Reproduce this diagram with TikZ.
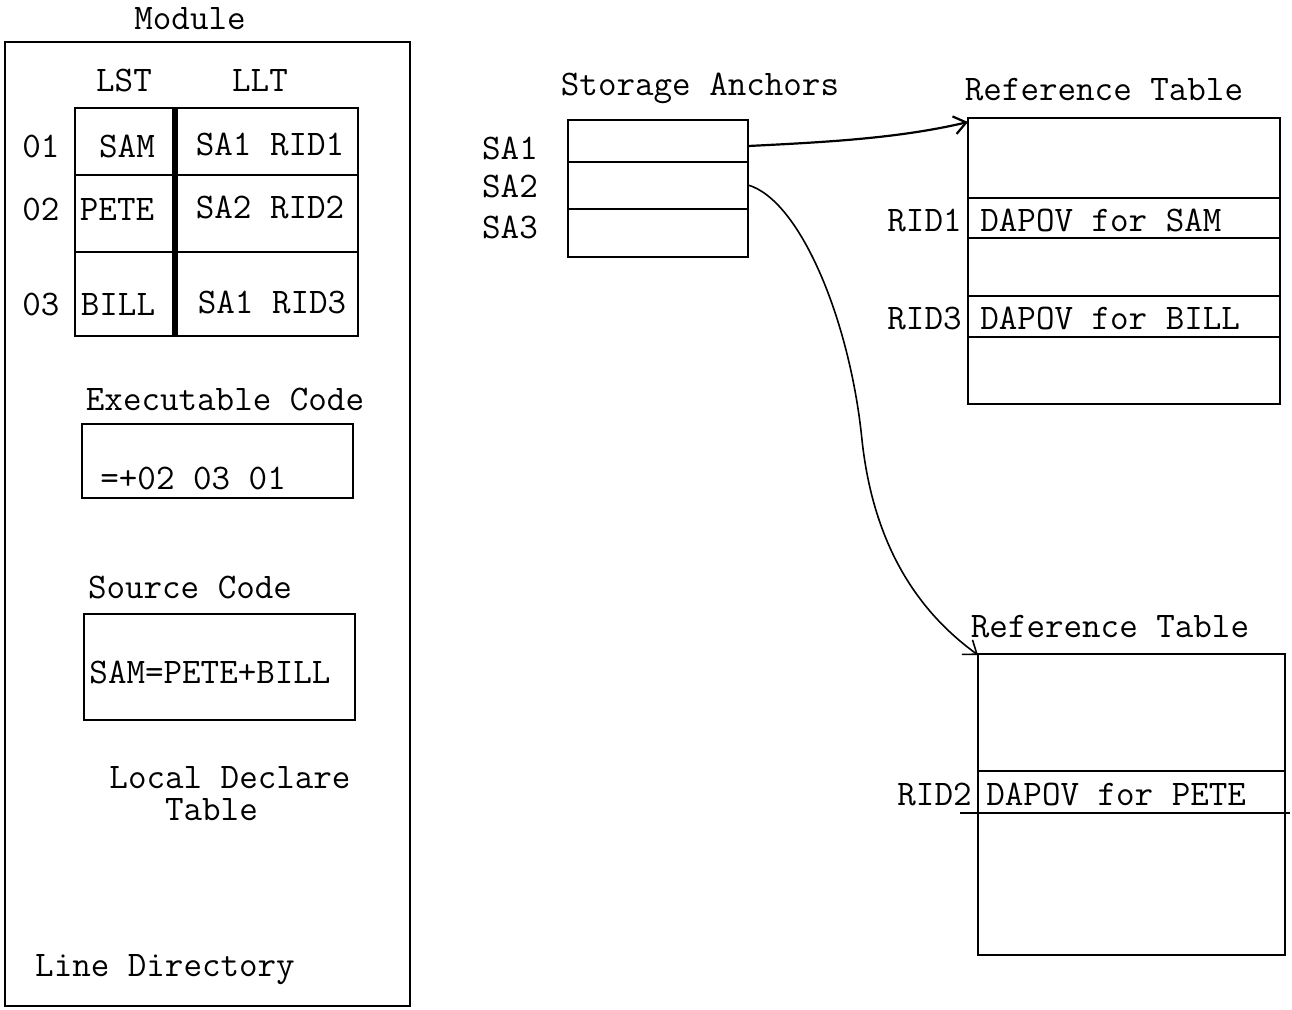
\documentclass[tikz,border=0pt]{standalone}
\usetikzlibrary{arrows.meta}
\tikzset{
  txt/.style={font=\fontsize{18}{16}\selectfont\ttfamily, inner sep=0pt},
  box/.style={draw, line width=0.9pt, inner sep=0pt},
  row/.style={line width=0.8pt},
}

\begin{document}
\begin{tikzpicture}[x=0.5pt, y=-0.5pt, >={Straight Barb[length=6pt, width=9pt]}]
  \useasboundingbox (0,0) rectangle (1292,1009);
  % module
  \node[txt] (modt) at (190,19) {Module};
  \node[box, line width=0.7pt, minimum width=202.5pt, minimum height=482pt] (mod) at (207.5,524) {};
  \node[txt] (lst) at (124,80) {LST};
  \node[txt] (llt) at (260,80) {LLT};
  \node[box, minimum width=141.5pt, minimum height=114pt] (ltab) at (216.5,222) {};
  \draw[line width=2.6pt] (ltab.north -| 175,0) -- (ltab.south -| 175,0);
  \draw[row] (75,175) -- (358,175); \draw[row] (75,252) -- (358,252);
  \node[txt] (n01) at (41,146) {01}; \node[txt] (sam) at (127,146) {SAM}; \node[txt] (l1) at (270,144) {SA1 RID1};
  \node[txt] (n02) at (41,209) {02}; \node[txt] (pete) at (117,209) {PETE}; \node[txt] (l2) at (270,207) {SA2 RID2};
  \node[txt] (n03) at (41,304) {03}; \node[txt] (bill) at (118,304) {BILL}; \node[txt] (l3) at (272,302) {SA1 RID3};
  \node[txt] (exet) at (225,399) {Executable Code};
  \node[box, minimum width=135.5pt, minimum height=37pt] (exe) at (217.5,461) {};
  \node[txt, anchor=west] (exec) at (100,478) {=+02 03 01};
  \node[txt] (srct) at (190,587) {Source Code};
  \node[box, minimum width=135.5pt, minimum height=53pt] (src) at (219.5,667) {};
  \node[txt] (srcc) at (210,672) {SAM=PETE+BILL};
  \node[txt, align=left] (ldt) at (230,794) {Local Declare\\\phantom{Loc}Table\phantom{Decl}};
  \node[txt] (ldir) at (165,970) {Line Directory};
  % storage anchors
  \node[txt] (sat) at (700,88) {Storage Anchors};
  \node[box, minimum width=90pt, minimum height=68.5pt] (sa) at (658,188.5) {};
  \draw[row] (568,162) -- (748,162); \draw[row] (568,209) -- (748,209);
  \node[txt] (sa1) at (510,148) {SA1};
  \node[txt] (sa2) at (510,186) {SA2};
  \node[txt] (sa3) at (510,227) {SA3};
  % reference tables
  \node[txt] (rt1t) at (1104,90) {Reference Table};
  \node[box, minimum width=156pt, minimum height=143pt] (rt1) at (1124,261) {};
  \foreach \yy in {198,238,296,337} \draw[row] (968,\yy) -- (1280,\yy);
  \node[txt, anchor=east] (rid1) at (962,220) {RID1}; \node[txt, anchor=west] (dp1) at (980,220) {DAPOV for SAM};
  \node[txt, anchor=east] (rid3) at (962,318) {RID3}; \node[txt, anchor=west] (dp3) at (980,318) {DAPOV for BILL};
  \node[txt] (rt2t) at (1110,627) {Reference Table};
  \node[box, minimum width=153.5pt, minimum height=150.5pt] (rt2) at (1131.5,804.5) {};
  \draw[row] (978,771) -- (1285,771); \draw[line width=1.1pt] (960,813) -- (1290,813);
  \node[txt, anchor=east] (rid2) at (972,794) {RID2}; \node[txt, anchor=west] (dp2) at (986,794) {DAPOV for PETE};
  % pointers
  \coordinate (p1) at (748,146); \coordinate (q1) at (968,122);
  \coordinate (p2) at (748,185); \coordinate (m2) at (862,440); \coordinate (q2) at (978,655);
  \draw[->, line width=1.1pt] (p1) .. controls (830,142) and (900,138) .. (q1);
  \draw[->, line width=0.8pt] (p2) .. controls (800,200) and (850,320) .. (m2) .. controls (875,560) and (930,620) .. (q2);
\end{tikzpicture}
\end{document}
